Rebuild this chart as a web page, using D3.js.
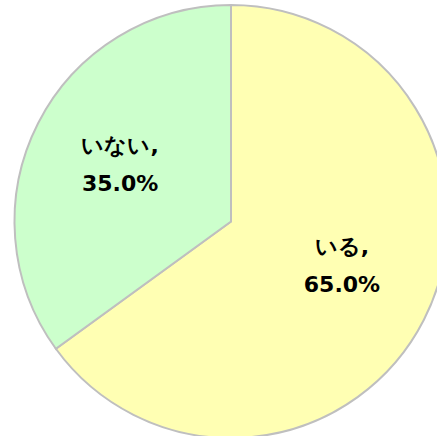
<!DOCTYPE html>
<html><head><meta charset="utf-8">
<script src="https://cdn.jsdelivr.net/npm/d3@7"></script>
<style>html,body{margin:0;padding:0;background:#fff;}</style>
</head><body>
<svg id="c" width="437" height="436"></svg>
<script>
const categories = ["いる", "いない"];
const values = [65.0, 35.0];
const colors = ["#FFFFB3", "#CCFFCC"];

const svg = d3.select("#c");
const cx = 231, cy = 221.5, r = 216.5;
const g = svg.append("g").attr("transform", `translate(${cx},${cy})`);
const pie = d3.pie().sort(null).value(d => d)(values);
const arc = d3.arc().innerRadius(0).outerRadius(r);
const labelArc = d3.arc().innerRadius(r * 0.575).outerRadius(r * 0.575);
const labelShiftY = [-12, 0];

g.selectAll("path").data(pie).join("path")
  .attr("d", arc)
  .attr("fill", (d, i) => colors[i])
  .attr("stroke", "#BFBFBF")
  .attr("stroke-width", 2);

const fs = 22;
const lbl = g.selectAll("text.lbl").data(pie).join("text")
  .attr("class", "lbl")
  .attr("transform", (d, i) => { const c = labelArc.centroid(d); return `translate(${c[0]},${c[1] + labelShiftY[i]})`; })
  .attr("text-anchor", "middle")
  .style("font-family", "'DejaVu Sans', Verdana, sans-serif")
  .style("font-weight", "bold")
  .style("font-size", fs + "px")
  .attr("fill", "#000");
lbl.append("tspan").attr("x", 0).attr("y", -12).text((d, i) => categories[i] + ",");
lbl.append("tspan").attr("x", 0).attr("y", 26).text((d, i) => values[i].toFixed(1) + "%");
</script>
</body></html>
